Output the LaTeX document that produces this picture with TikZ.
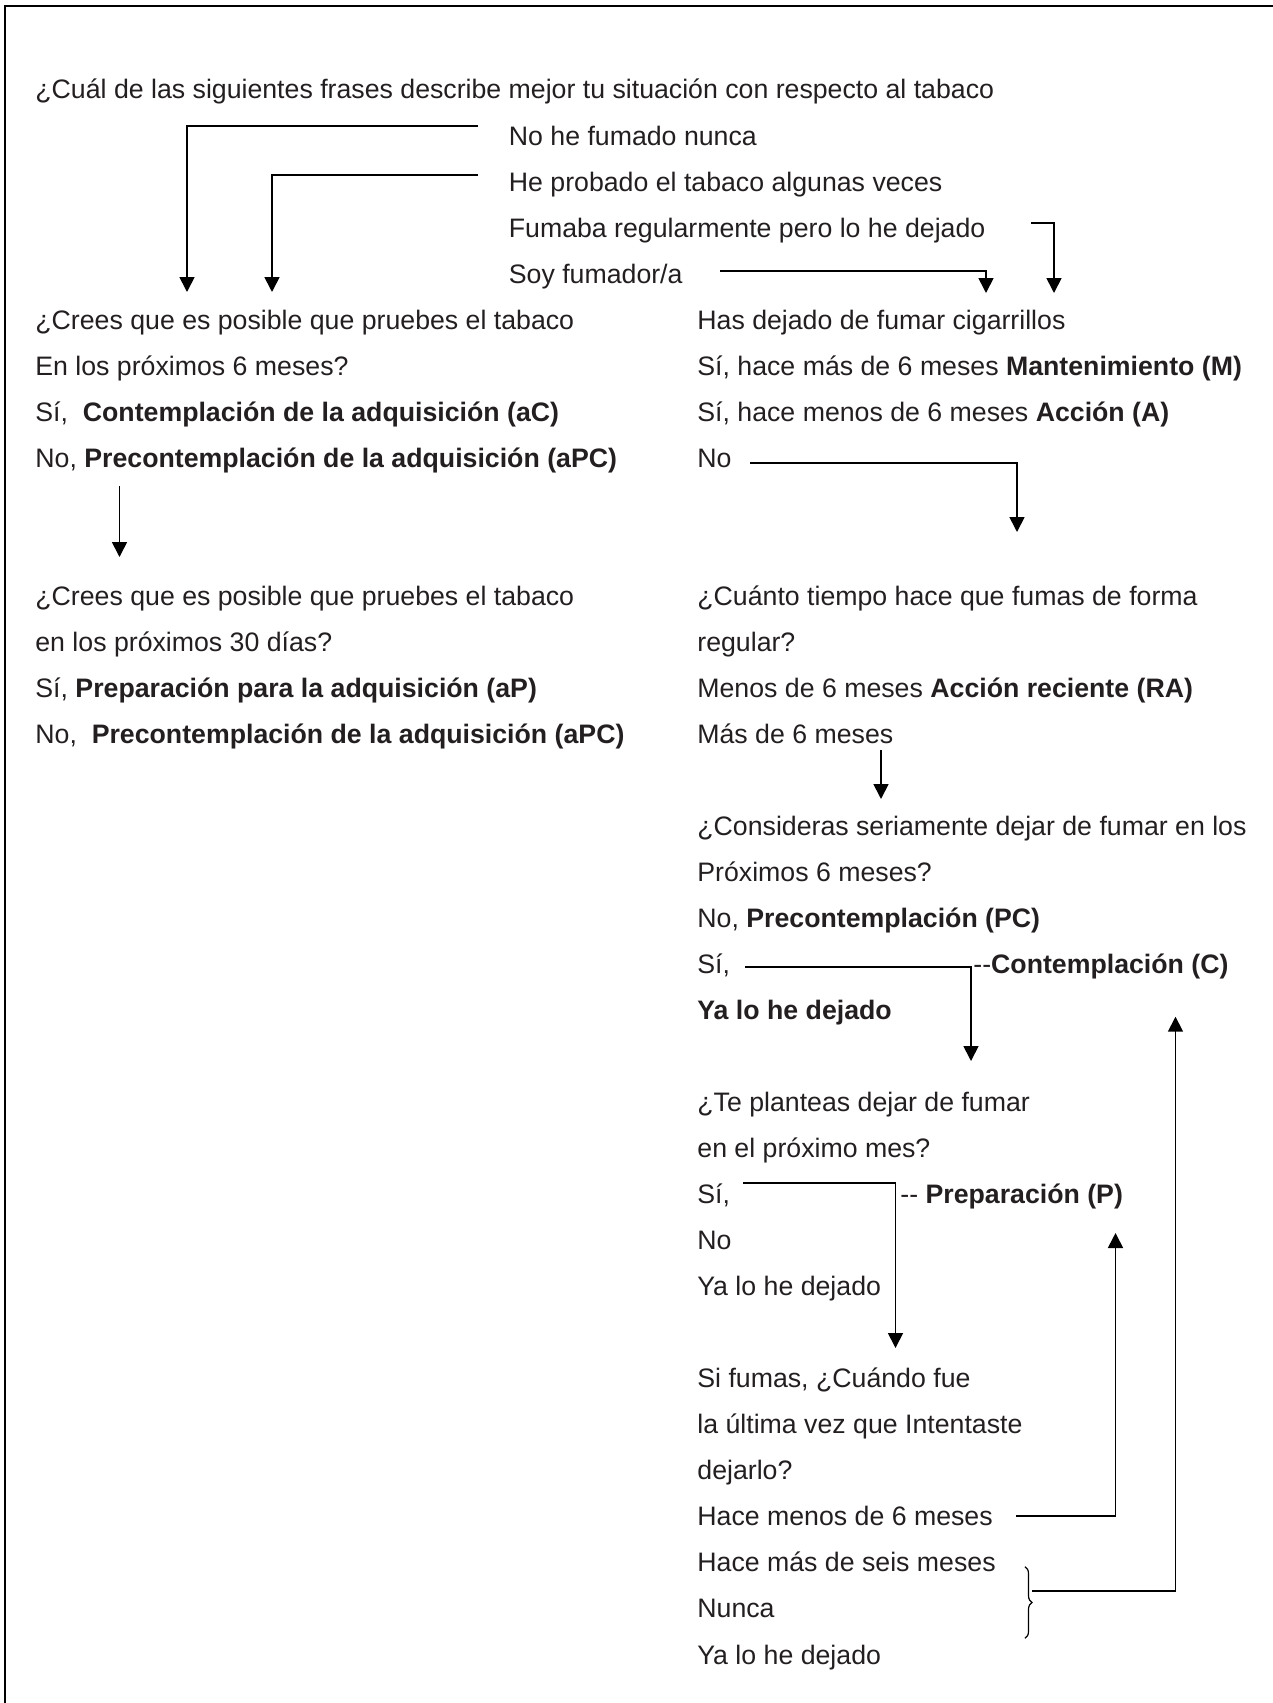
\documentclass[tikz,border=0pt]{standalone}
\usepackage{fontspec}
\setmainfont{Liberation Sans}
\usetikzlibrary{arrows.meta,decorations.pathreplacing}
\definecolor{ink}{RGB}{35,31,32}
\begin{document}
\begin{tikzpicture}[x=0.5pt,y=-0.5pt,
  txt/.style={anchor=base west, inner sep=0pt, text=ink,
    font=\fontsize{13.35pt}{16pt}\selectfont},
  link/.style={line width=0.85pt, draw=black},
  arr/.style={link, -{Triangle[width=7.5pt,length=7.5pt]}},
  frame/.style={line width=1.1pt, draw=black}]
\useasboundingbox (0,0) rectangle (1273,1703);
% outer frame (top and left rules)
\draw[frame] (5.3,1703) -- (5.3,6) -- (1273,6);

% column origins and baselines
\def\xl{35}  \def\xo{508.5} \def\xr{697}
\newcommand\by[1]{98.97+46.03*#1}

% opening question and its answers
\node[txt] (title) at (\xl,{\by{0}}) {¿Cuál de las siguientes frases describe mejor tu situación con respecto al tabaco};
\node[txt] (o1) at (\xo,{\by{1}}) {No he fumado nunca};
\node[txt] (o2) at (\xo,{\by{2}}) {He probado el tabaco algunas veces};
\node[txt] (o3) at (\xo,{\by{3}}) {Fumaba regularmente pero lo he dejado};
\node[txt] (o4) at (\xo,{\by{4}}) {Soy fumador/a};

% left branch: non-smokers
\node[txt] (a1) at (\xl,{\by{5}}) {¿Crees que es posible que pruebes el tabaco};
\node[txt] (a2) at (\xl,{\by{6}}) {En los próximos 6 meses?};
\node[txt] (a3) at (\xl,{\by{7}}) {Sí,\ \ \textbf{Contemplación de la adquisición (aC)}};
\node[txt] (a4) at (\xl,{\by{8}}) {No, \textbf{Precontemplación de la adquisición (aPC)}};

\node[txt] (b1) at (\xl,{\by{11}}) {¿Crees que es posible que pruebes el tabaco};
\node[txt] (b2) at (\xl,{\by{12}}) {en los próximos 30 días?};
\node[txt] (b3) at (\xl,{\by{13}}) {Sí, \textbf{Preparación para la adquisición (aP)}};
\node[txt] (b4) at (\xl,{\by{14}}) {No,\ \ \textbf{Precontemplación de la adquisición (aPC)}};

% right branch: smokers and ex-smokers
\node[txt] (c1) at (\xr,{\by{5}}) {Has dejado de fumar cigarrillos};
\node[txt] (c2) at (\xr,{\by{6}}) {Sí, hace más de 6 meses \textbf{Mantenimiento (M)}};
\node[txt] (c3) at (\xr,{\by{7}}) {Sí, hace menos de 6 meses \textbf{Acción (A)}};
\node[txt] (c4) at (\xr,{\by{8}}) {No};

\node[txt] (d1) at (\xr,{\by{11}}) {¿Cuánto tiempo hace que fumas de forma};
\node[txt] (d2) at (\xr,{\by{12}}) {regular?};
\node[txt] (d3) at (\xr,{\by{13}}) {Menos de 6 meses \textbf{Acción reciente (RA)}};
\node[txt] (d4) at (\xr,{\by{14}}) {Más de 6 meses};

\node[txt] (e1) at (\xr,{\by{16}}) {¿Consideras seriamente dejar de fumar en los};
\node[txt] (e2) at (\xr,{\by{17}}) {Próximos 6 meses?};
\node[txt] (e3) at (\xr,{\by{18}}) {No, \textbf{Precontemplación (PC)}};
\node[txt] (e4) at (\xr,{\by{19}}) {Sí,};
\node[txt] (eC) at (973,{\by{19}}) {-{}-\textbf{Contemplación (C)}};
\node[txt] (e5) at (\xr,{\by{20}}) {\textbf{Ya lo he dejado}};

\node[txt] (f1) at (\xr,{\by{22}}) {¿Te planteas dejar de fumar};
\node[txt] (f2) at (\xr,{\by{23}}) {en el próximo mes?};
\node[txt] (f3) at (\xr,{\by{24}}) {Sí,};
\node[txt] (fP) at (900,{\by{24}}) {-{}- \textbf{Preparación (P)}};
\node[txt] (f4) at (\xr,{\by{25}}) {No};
\node[txt] (f5) at (\xr,{\by{26}}) {Ya lo he dejado};

\node[txt] (g1) at (\xr,{\by{28}}) {Si fumas, ¿Cuándo fue};
\node[txt] (g2) at (\xr,{\by{29}}) {la última vez que Intentaste};
\node[txt] (g3) at (\xr,{\by{30}}) {dejarlo?};
\node[txt] (g4) at (\xr,{\by{31}}) {Hace menos de 6 meses};
\node[txt] (g5) at (\xr,{\by{32}}) {Hace más de seis meses};
\node[txt] (g6) at (\xr,{\by{33}}) {Nunca};
\node[txt] (g7) at (\xr,{\by{34}}) {Ya lo he dejado};

% connector end points
\coordinate (o1s) at (478,126);
\coordinate (o2s) at (478,175);
\coordinate (o3s) at (1031,222.7);
\coordinate (o4s) at (720,270.7);
\coordinate (a1t) at (187,292);
\coordinate (a1u) at (272,292);
\coordinate (c1t) at (986,293);
\coordinate (c1u) at (1054,293);
\coordinate (c4s) at (750,462.7);
\coordinate (d1t) at (1017,532);
\coordinate (a4s) at (119.5,486);
\coordinate (b1t) at (119.5,557);
\coordinate (d4s) at (881,750);
\coordinate (e1t) at (881,799);
\coordinate (e4s) at (745,966.7);
\coordinate (f1t) at (971,1061);
\coordinate (f3s) at (743,1182.7);
\coordinate (g1t) at (895.5,1348);
\coordinate (g4s) at (1016,1515.7);
\coordinate (fPt) at (1115.5,1233);
\coordinate (brT) at (1025,1566.7);
\coordinate (brB) at (1025,1638.3);
\coordinate (brs) at (1032,1590.7);
\coordinate (eCt) at (1175.5,1016.7);

% connectors
\draw[arr] (o1s) -| (a1t);
\draw[arr] (o2s) -| (a1u);
\draw[arr] (o3s) -| (c1u);
\draw[arr] (o4s) -| (c1t);
\draw[arr] (c4s) -| (d1t);
\draw[arr] (a4s) -- (b1t);
\draw[arr] (d4s) -- (e1t);
\draw[arr] (e4s) -| (f1t);
\draw[arr] (f3s) -| (g1t);
\draw[arr] (g4s) -| (fPt);
\draw[line width=0.6pt, decorate, decoration={brace, amplitude=3.5pt}] (brT) -- (brB);
\draw[arr] (brs) -| (eCt);
\end{tikzpicture}
\end{document}
